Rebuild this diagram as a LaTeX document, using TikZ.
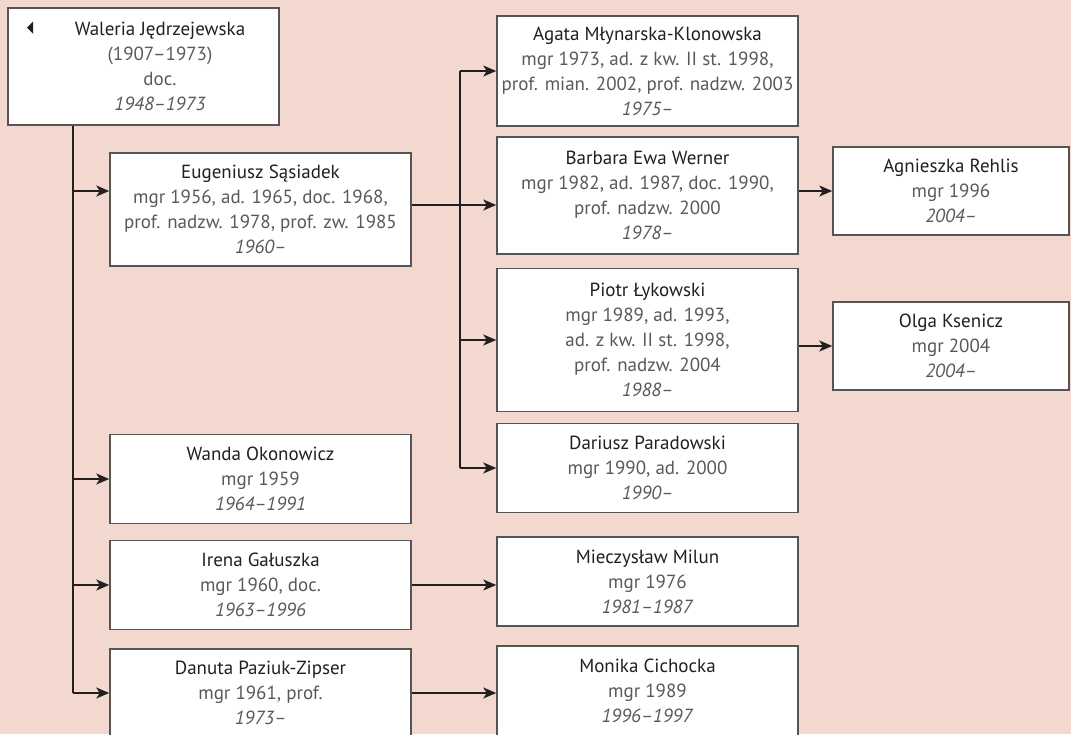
\documentclass[tikz,border=0pt]{standalone}
\usepackage{fontspec}
\setmainfont{PT Sans}
\usetikzlibrary{arrows.meta}
\definecolor{bg}{HTML}{F2D8CF}
\definecolor{boxc}{HTML}{555555}
\definecolor{namec}{HTML}{231F20}
\definecolor{detc}{HTML}{58595B}
\definecolor{linec}{HTML}{231F20}
\newcommand{\nm}[1]{{\color{namec}#1}}
\newcommand{\yr}[1]{\textit{#1}}
\tikzset{
  person/.style={draw=boxc, fill=white, line width=1.5pt, inner sep=0pt,
    align=center, text=detc, font=\fontsize{19}{25}\selectfont},
  conn/.style={draw=linec, line width=1.6pt},
  arr/.style={conn, -{Stealth[length=13pt,width=11pt,inset=3.5pt]}},
}
\begin{document}
\begin{tikzpicture}[x=1pt,y=-1pt]
\fill[bg] (0,0) rectangle (1071,734);
\useasboundingbox (0,0) rectangle (1071,734);
% boxes: centre, width, height
\node[person, minimum width=271pt, minimum height=117pt] (W) at (143.5,66.5) {};
\node[align=center, text=detc, font=\fontsize{19}{25}\selectfont] (Wt) at (160,66.5)
  {\nm{Waleria Jędrzejewska}\\(1907–1973)\\doc.\\\yr{1948–1973}};
\fill[namec] (27,27.5) -- (33,21.5) -- (33,33.5) -- cycle;
\node[person, minimum width=301pt, minimum height=113pt] (E) at (260.5,209.5)
  {\nm{Eugeniusz Sąsiadek}\\mgr 1956, ad. 1965, doc. 1968,\\prof. nadzw. 1978, prof. zw. 1985\\\yr{1960–}};
\node[person, minimum width=301pt, minimum height=89pt] (Wa) at (260.5,479)
  {\nm{Wanda Okonowicz}\\mgr 1959\\\yr{1964–1991}};
\node[person, minimum width=301pt, minimum height=89pt] (I) at (260.5,585)
  {\nm{Irena Gałuszka}\\mgr 1960, doc.\\\yr{1963–1996}};
\node[person, minimum width=301pt, minimum height=88pt] (D) at (260.5,693)
  {\nm{Danuta Paziuk-Zipser}\\mgr 1961, prof.\\\yr{1973–}};
\node[person, minimum width=301pt, minimum height=110pt] (A) at (647.5,71)
  {\nm{Agata Młynarska-Klonowska}\\mgr 1973, ad. z kw. II st. 1998,\\prof. mian. 2002, prof. nadzw. 2003\\\yr{1975–}};
\node[person, minimum width=301pt, minimum height=117pt] (B) at (647.5,195.5)
  {\nm{Barbara Ewa Werner}\\mgr 1982, ad. 1987, doc. 1990,\\prof. nadzw. 2000\\\yr{1978–}};
\node[person, minimum width=301pt, minimum height=143pt] (P) at (647.5,340)
  {\nm{Piotr Łykowski}\\mgr 1989, ad. 1993,\\ad. z kw. II st. 1998,\\prof. nadzw. 2004\\\yr{1988–}};
\node[person, minimum width=301pt, minimum height=89pt] (Da) at (647.5,468)
  {\nm{Dariusz Paradowski}\\mgr 1990, ad. 2000\\\yr{1990–}};
\node[person, minimum width=301pt, minimum height=89pt] (M) at (647.5,581.5)
  {\nm{Mieczysław Milun}\\mgr 1976\\\yr{1981–1987}};
\node[person, minimum width=301pt, minimum height=90pt] (Mo) at (647.5,691)
  {\nm{Monika Cichocka}\\mgr 1989\\\yr{1996–1997}};
\node[person, minimum width=236pt, minimum height=88pt] (Ag) at (951,191)
  {\nm{Agnieszka Rehlis}\\mgr 1996\\\yr{2004–}};
\node[person, minimum width=236pt, minimum height=88pt] (O) at (951,346)
  {\nm{Olga Ksenicz}\\mgr 2004\\\yr{2004–}};
% connectors
\coordinate (tx) at (73,0);
\coordinate (vx) at (460,0);
\coordinate (e1) at ([yshift=18.5pt]E.west);
\coordinate (e2) at ([yshift=4.5pt]E.east);
\draw[conn] (tx |- W.south) -- (tx |- D.west);
\draw[arr] (e1 -| tx) -- (e1);
\draw[arr] (Wa.west -| tx) -- (Wa.west);
\draw[arr] (I.west -| tx) -- (I.west);
\draw[arr] (D.west -| tx) -- (D.west);
\draw[arr] (e2) -- (e2 -| B.west);
\draw[conn] (vx |- A.west) -- (vx |- Da.west);
\draw[arr] (vx |- A.west) -- (A.west);
\draw[arr] (vx |- P.west) -- (P.west);
\draw[arr] (vx |- Da.west) -- (Da.west);
\draw[arr] (Ag.west -| B.east) -- (Ag.west);
\draw[arr] (O.west -| P.east) -- (O.west);
\draw[arr] (I.east) -- (I.east -| M.west);
\draw[arr] (D.east) -- (D.east -| Mo.west);
\end{tikzpicture}
\end{document}
